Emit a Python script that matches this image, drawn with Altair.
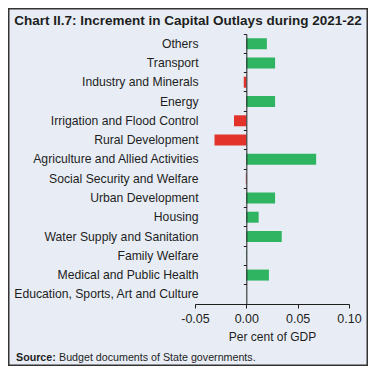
import altair as alt
import pandas as pd

categories = [
    "Others",
    "Transport",
    "Industry and Minerals",
    "Energy",
    "Irrigation and Flood Control",
    "Rural Development",
    "Agriculture and Allied Activities",
    "Social Security and Welfare",
    "Urban Development",
    "Housing",
    "Water Supply and Sanitation",
    "Family Welfare",
    "Medical and Public Health",
    "Education, Sports, Art and Culture",
]
values = [0.020, 0.028, -0.0025, 0.028, -0.012, -0.031, 0.068, -0.0005,
          0.028, 0.012, 0.0345, 0.0005, 0.022, 0.0]
x_ticks = [-0.05, 0.0, 0.05, 0.10]

title_text = "Chart II.7: Increment in Capital Outlays during 2021-22"
source_bold = "Source:"
source_rest = "Budget documents of State governments."

df = pd.DataFrame({"category": categories, "value": values})

FONT = "Liberation Sans"
BG = "#e8edf5"
INK = "#1e1e1e"
GREEN = "#2fb461"
RED = "#e2322a"

W, H = 154, 270

bars = alt.Chart(df).mark_bar(size=11).encode(
    x=alt.X(
        "value:Q",
        scale=alt.Scale(domain=[-0.05, 0.10], nice=False, zero=False),
        axis=alt.Axis(
            values=x_ticks, title="Per cent of GDP",
            labelExpr="replace(format(datum.value, '.2f'), '\u2212', '-')",
            grid=False, tickSize=4, labelPadding=4, titlePadding=7,
            labelFontSize=12.5, titleFontSize=12, titleFontWeight="normal",
            labelFont=FONT, titleFont=FONT, labelColor=INK, titleColor=INK,
            domainColor=INK, tickColor=INK, labelFlush=False, zindex=2,
        ),
    ),
    y=alt.Y(
        "category:N",
        sort=categories,
        scale=alt.Scale(paddingInner=0, paddingOuter=0),
        axis=alt.Axis(
            title=None, offset=-51.33, bandPosition=0, tickSize=3,
            labelPadding=45.3, labelFontSize=12.2, labelFont=FONT,
            labelColor=INK, domainColor=INK, tickColor=INK, grid=False,
            labelLimit=300, zindex=2,
        ),
    ),
    color=alt.condition(alt.datum.value < 0, alt.value(RED), alt.value(GREEN)),
)

frame = alt.Chart(df).mark_rect(fill=BG, stroke="#333333", strokeWidth=1.5).encode(
    x=alt.value(-186.25), x2=alt.value(172.25),
    y=alt.value(-25.25), y2=alt.value(331.25),
)

title = alt.Chart(pd.DataFrame({"t": [title_text]})).mark_text(
    align="center", baseline="middle", font=FONT, fontSize=13.5,
    fontWeight="bold", color=INK,
).encode(text="t:N", x=alt.value(-7), y=alt.value(-13))

src1 = alt.Chart(pd.DataFrame({"t": [source_bold]})).mark_text(
    align="left", baseline="middle", font=FONT, fontSize=10.7,
    fontWeight="bold", color=INK,
).encode(text="t:N", x=alt.value(-179), y=alt.value(324))

src2 = alt.Chart(pd.DataFrame({"t": [source_rest]})).mark_text(
    align="left", baseline="middle", font=FONT, fontSize=10.7, color=INK,
).encode(text="t:N", x=alt.value(-136), y=alt.value(324))

chart = alt.layer(frame, bars, title, src1, src2).properties(
    width=W, height=H,
    autosize=alt.AutoSizeParams(type="none"),
    padding={"left": 187, "top": 26, "right": 19, "bottom": 62},
    background="white",
).configure_view(stroke=None)

chart.save("out.html", embed_options={"renderer": "svg", "actions": False})
